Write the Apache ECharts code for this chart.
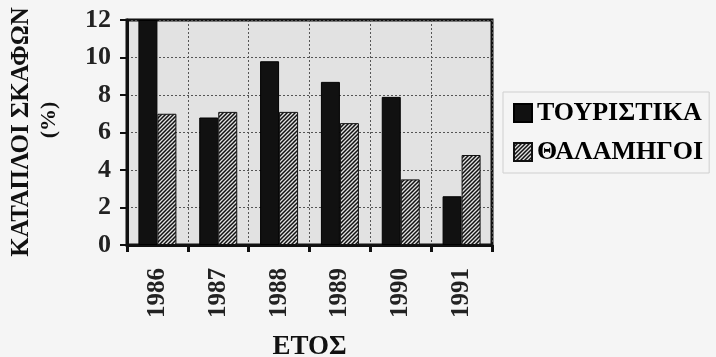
<!DOCTYPE html>
<html>
<head>
<meta charset="utf-8">
<script src="https://cdn.jsdelivr.net/npm/echarts@6/dist/echarts.min.js"></script>
<style>
html,body{margin:0;padding:0;background:#f5f5f5;}
#c{width:716px;height:357px;}
</style>
</head>
<body>
<div id="c"></div>
<script>
const years = ['1986','1987','1988','1989','1990','1991'];
const touristika = [12.0, 6.8, 9.8, 8.7, 7.9, 2.6];
const thalamigoi = [7.0, 7.1, 7.1, 6.5, 3.5, 4.8];
const seriesNames = ['ΤΟΥΡΙΣΤΙΚΑ', 'ΘΑΛΑΜΗΓΟΙ'];
const yTitle = 'ΚΑΤΑΠΛΟΙ ΣΚΑΦΩΝ';
const yUnit = '(%)';
const xTitle = 'ΕΤΟΣ';

const FONT = '"Liberation Serif", "DejaVu Serif", serif';

function hatch() {
  const c = document.createElement('canvas');
  c.width = 4; c.height = 4;
  const g = c.getContext('2d');
  g.fillStyle = '#e0e0e0';
  g.fillRect(0, 0, 4, 4);
  g.strokeStyle = '#111';
  g.lineWidth = 1.5;
  g.beginPath();
  g.moveTo(-1, 5); g.lineTo(5, -1);
  g.moveTo(-1, 1); g.lineTo(1, -1);
  g.moveTo(3, 5); g.lineTo(5, 3);
  g.stroke();
  return c;
}

const chart = echarts.init(document.getElementById('c'));
chart.setOption({
  backgroundColor: '#f5f5f5',
  animation: false,
  grid: {
    left: 127, right: 224, top: 20, bottom: 112,
    containLabel: false, outerBoundsMode: 'none',
    show: true, backgroundColor: '#e2e2e2', borderColor: '#111', borderWidth: 3
  },
  legend: {
    orient: 'vertical',
    left: 503, top: 92,
    padding: [8, 6, 8, 10],
    itemGap: 13,
    itemWidth: 18, itemHeight: 18,
    borderColor: '#cfcfcf', borderWidth: 1,
    icon: 'rect',
    textStyle: { fontFamily: FONT, fontWeight: 'bold', fontSize: 26, color: '#000', padding: [0, 0, 0, 0] },
    data: seriesNames
  },
  xAxis: {
    type: 'category',
    data: years,
    boundaryGap: true,
    axisLine: { lineStyle: { color: '#111', width: 3 } },
    axisTick: { show: true, length: 7, lineStyle: { color: '#111', width: 3 } },
    axisLabel: { rotate: 90, margin: 23, fontFamily: FONT, fontWeight: 'bold', fontSize: 25, color: '#222' },
    splitLine: { show: true, lineStyle: { color: '#555', width: 1, type: [2, 2] } },
    name: xTitle,
    nameLocation: 'middle',
    nameGap: 89,
    nameTextStyle: { fontFamily: FONT, fontWeight: 'bold', fontSize: 27, color: '#111' }
  },
  yAxis: {
    type: 'value',
    min: 0, max: 12, interval: 2,
    axisLine: { show: true, lineStyle: { color: '#111', width: 3 } },
    axisTick: { show: true, length: 7, lineStyle: { color: '#111', width: 2 } },
    axisLabel: { margin: 16, fontFamily: FONT, fontWeight: 'bold', fontSize: 26, color: '#222' },
    splitLine: { show: true, lineStyle: { color: '#555', width: 1, type: [2, 2] } }
  },
  graphic: [
    { type: 'text', x: 22, y: 132, rotation: Math.PI / 2,
      style: { text: yTitle, fontFamily: FONT, fontWeight: 'bold', fontSize: 25, fill: '#111', align: 'center', verticalAlign: 'middle' } },
    { type: 'text', x: 49, y: 120, rotation: Math.PI / 2,
      style: { text: yUnit, fontFamily: FONT, fontWeight: 'bold', fontSize: 22, fill: '#111', align: 'center', verticalAlign: 'middle' } }
  ],
  series: [
    { name: seriesNames[0], type: 'bar', data: touristika, barWidth: 19, barGap: '0%',
      itemStyle: { color: '#111', borderColor: '#000', borderWidth: 1 } },
    { name: seriesNames[1], type: 'bar', data: thalamigoi, barWidth: 19,
      itemStyle: { color: { image: hatch(), repeat: 'repeat' }, borderColor: '#111', borderWidth: 1 } }
  ]
});
</script>
</body>
</html>
